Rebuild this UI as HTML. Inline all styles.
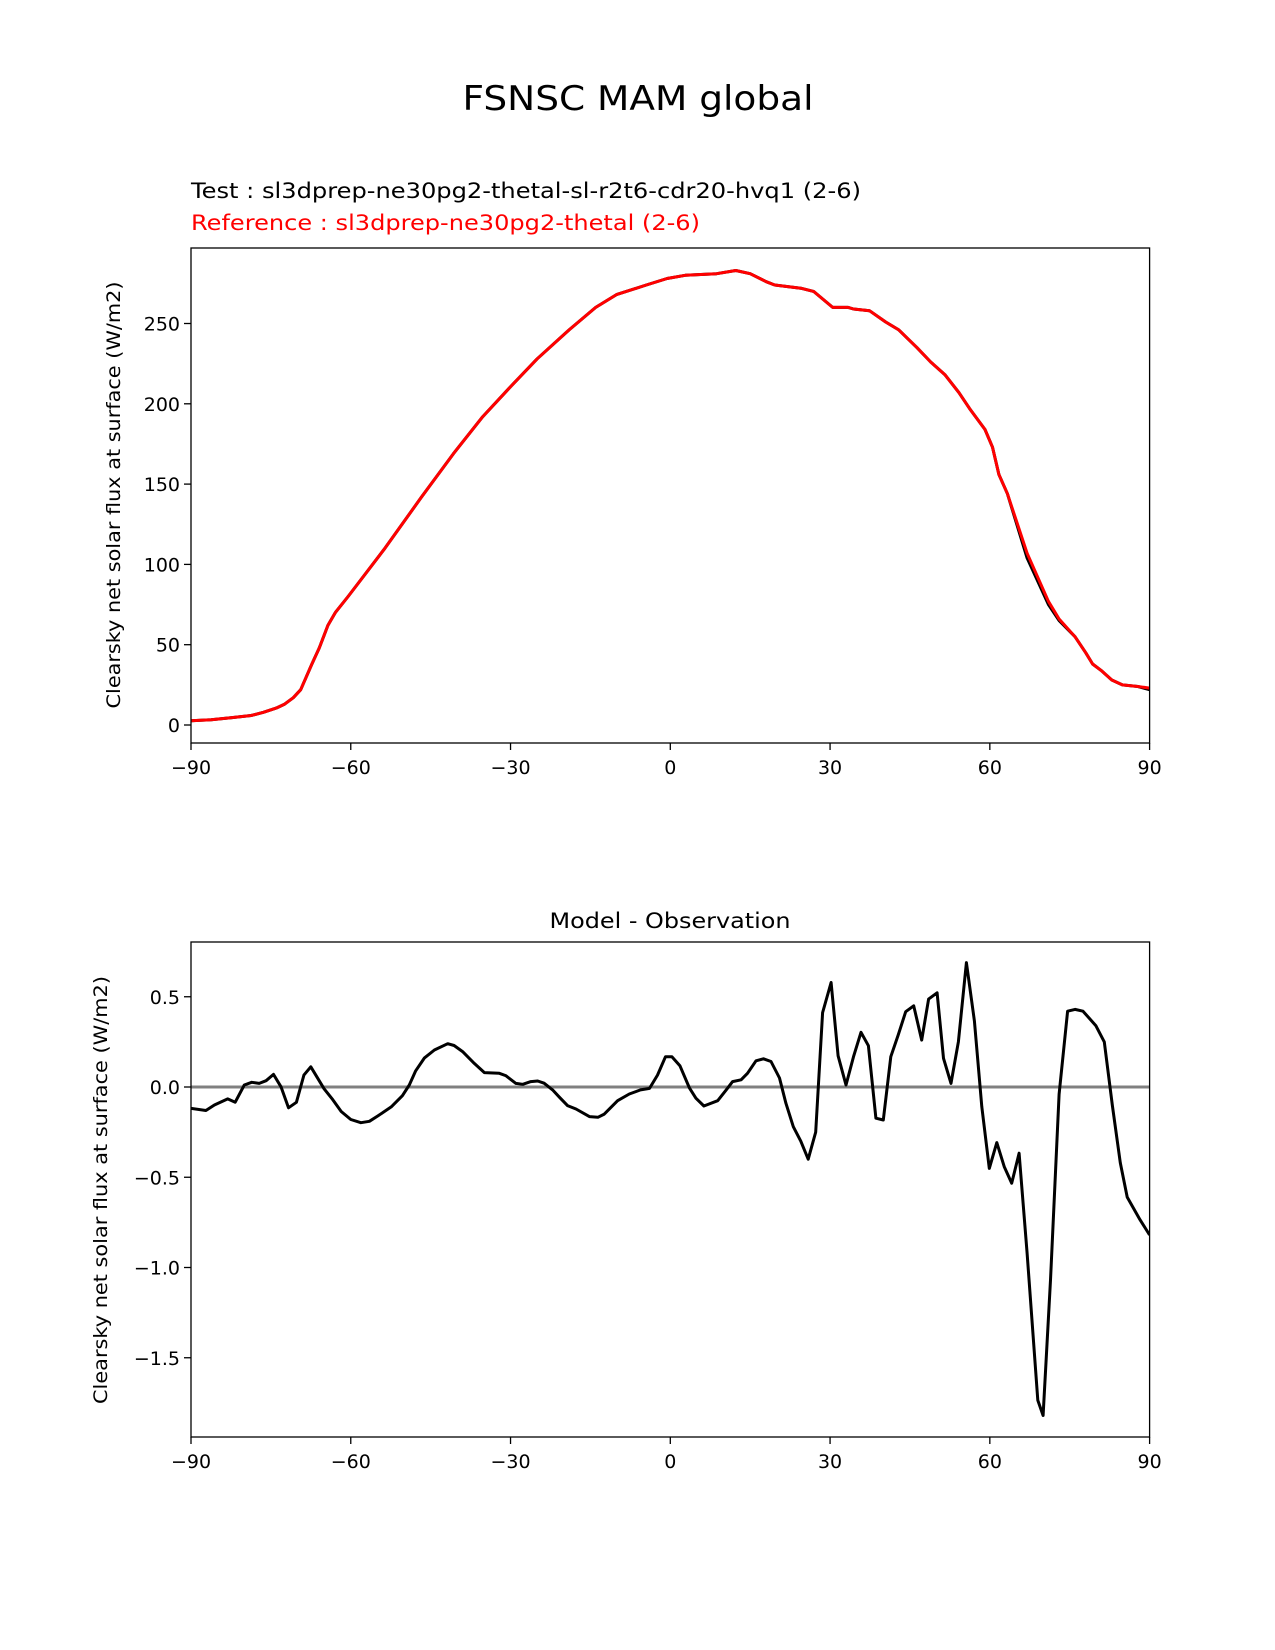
<!DOCTYPE html>
<html><head><meta charset="utf-8"><style>
html,body{margin:0;padding:0;background:#fff}
svg{display:block;font-family:"DejaVu Sans","Liberation Sans",sans-serif}
</style></head><body>
<svg id="fig" width="1275" height="1650" viewBox="0 0 1275 1650" xmlns="http://www.w3.org/2000/svg">
<rect width="1275" height="1650" fill="#fff"/>
<text x="638" y="110" font-size="34" text-anchor="middle" textLength="351" lengthAdjust="spacingAndGlyphs">FSNSC MAM global</text>
<text x="191" y="198" font-size="21" textLength="670" lengthAdjust="spacingAndGlyphs">Test : sl3dprep-ne30pg2-thetal-sl-r2t6-cdr20-hvq1 (2-6)</text>
<text x="191" y="230" font-size="21" fill="#ff0000" textLength="509" lengthAdjust="spacingAndGlyphs">Reference : sl3dprep-ne30pg2-thetal (2-6)</text>
<text x="670" y="928" font-size="21" text-anchor="middle" textLength="241" lengthAdjust="spacingAndGlyphs">Model - Observation</text>
<text transform="translate(120,495) rotate(-90)" font-size="19" text-anchor="middle" textLength="427" lengthAdjust="spacingAndGlyphs">Clearsky net solar flux at surface (W/m2)</text>
<text transform="translate(107,1190) rotate(-90)" font-size="19" text-anchor="middle" textLength="428" lengthAdjust="spacingAndGlyphs">Clearsky net solar flux at surface (W/m2)</text>
<g id="top"></g><g id="bot"></g>
</svg>
<script>
const xTicks=[-90,-60,-30,0,30,60,90];
const xTickLabels=["\u221290","\u221260","\u221230","0","30","60","90"];
const topYTicks=[0,50,100,150,200,250];
const botYTicks=[-1.5,-1.0,-0.5,0.0,0.5];
const botYTickLabels=["\u22121.5","\u22121.0","\u22120.5","0.0","0.5"];
const topLat=[-90,-86.2,-82.3,-78.7,-76.4,-74,-72.4,-70.8,-69.4,-67.3,-65.9,-64.3,-62.9,-60.5,-53.6,-46.7,-40.7,-35.2,-29.9,-25,-19,-14,-10.1,-4.5,-0.6,2.8,8.7,12.3,15,18,19.6,24.5,26.9,30.5,33.4,34.4,37.4,40.4,42.9,46.3,48.9,51.6,54.2,56.2,59.1,60.5,61.7,63.3,67,71,73,76,78,79.3,80.9,82.9,84.9,87.8,90];
const refVals=[2.6,3.3,4.6,5.9,7.9,10.5,13,17,22,38,48,62,70,80,110,142,169,192,211,228,246,260,268,274,278,280,281,283,281,276,274,272,270,260,260,259,258,251,246,235,226,218,207,197,184,173,156,144,107,77,66,55,45,38,34,28,25,24,23];
const testVals=[2.6,3.3,4.6,5.9,7.9,10.5,13,17,22,38,48,62,70,80,110,142,169,192,211,228,246,260,268,274,278,280,281,283,281,276,274,272,270,260,260,259,258,251,246,235,226,218,207,197,184,173,156,144,104,75,65,55,45,38,34,28,25,24,22];
const diffLat=[-90,-87.2,-85.6,-83.1,-81.7,-80,-78.6,-77.2,-75.9,-74.5,-73.1,-71.7,-70.2,-68.8,-67.5,-65,-63.4,-61.8,-60,-58.1,-56.5,-54.9,-52.4,-50.3,-49,-47.8,-46.2,-44.3,-41.8,-40.6,-39,-36.8,-34.9,-32.1,-30.9,-29,-27.7,-26.2,-24.9,-23.7,-22.1,-20.8,-19.3,-17.7,-15.2,-13.6,-12.4,-9.9,-7.7,-5.6,-3.9,-2.4,-0.9,0.3,1.8,3.6,4.8,6.3,8.9,10.5,11.7,13.3,14.5,16.1,17.5,18.9,20.5,21.7,23.1,24.5,25.9,27.3,28.6,30.2,31.5,33,34.4,35.8,37.2,38.6,40,41.4,42.8,44.2,45.7,47.2,48.5,50.1,51.3,52.7,54.1,55.6,57.1,58.5,59.9,61.3,62.7,64.1,65.5,67,69,70,71.4,73,74.6,76,77.5,79.9,81.5,83,84.5,85.8,88.2,90];
const diffVals=[-0.118,-0.13,-0.10,-0.066,-0.084,0.011,0.026,0.02,0.035,0.07,0.001,-0.115,-0.085,0.066,0.112,-0.01,-0.07,-0.136,-0.18,-0.198,-0.19,-0.16,-0.11,-0.048,0.011,0.09,0.16,0.205,0.24,0.23,0.196,0.131,0.08,0.076,0.063,0.02,0.015,0.03,0.033,0.021,-0.016,-0.057,-0.103,-0.122,-0.164,-0.168,-0.15,-0.076,-0.039,-0.016,-0.008,0.066,0.168,0.168,0.118,-0.006,-0.062,-0.105,-0.076,-0.016,0.03,0.04,0.076,0.145,0.156,0.141,0.05,-0.09,-0.22,-0.30,-0.40,-0.25,0.412,0.579,0.173,0.011,0.168,0.303,0.229,-0.173,-0.183,0.168,0.288,0.417,0.45,0.26,0.487,0.522,0.159,0.02,0.251,0.689,0.366,-0.109,-0.451,-0.308,-0.441,-0.533,-0.367,-0.92,-1.735,-1.82,-1.07,-0.04,0.42,0.43,0.42,0.34,0.25,-0.10,-0.42,-0.61,-0.735,-0.82];

const NS="http://www.w3.org/2000/svg";
const L=191,R=1149.6;
const xs=v=>L+(v+90)/180*(R-L);
function mk(p,t,a){const e=document.createElementNS(NS,t);for(const k in a)e.setAttribute(k,a[k]);p.appendChild(e);return e;}
function axes(g,top,bot,ys,yT,yL,prefix){
  const tickBase=bot+31;
  xTicks.forEach((t,i)=>{
    const tk=mk(g,'line',{x1:xs(t),x2:xs(t),y1:bot,y2:bot+7,stroke:'#000','stroke-width':1.3});
    
    
    const tx=mk(g,'text',{x:xs(t),y:tickBase,'font-size':19,'text-anchor':'middle'});
    tx.textContent=xTickLabels[i];
    
    
  });
  yT.forEach((t,i)=>{
    const y=ys(t);
    const tk=mk(g,'line',{x1:L-7,x2:L,y1:y,y2:y,stroke:'#000','stroke-width':1.3});
    
    
    const tx=mk(g,'text',{x:L-11,y:y+7,'font-size':19,'text-anchor':'end'});
    tx.textContent=yL[i];
    
    
  });
}
function series(g,lat,vals,ys,color,name,w){
  const d=lat.map((x,i)=>(i?'L':'M')+xs(x).toFixed(1)+' '+ys(vals[i]).toFixed(1)).join(' ');
  const p=mk(g,'path',{d:d,fill:'none',stroke:color,'stroke-width':w,'stroke-linejoin':'round'});
  
  
}
// top
const gt=document.getElementById('top');
const tT=248,tB=743;
const ysT=v=>725-v*1.606;
axes(gt,tT,tB,ysT,topYTicks,topYTicks.map(String),'top');
const cp1=mk(gt,'clipPath',{id:'c1'});mk(cp1,'rect',{x:L,y:tT,width:R-L,height:tB-tT});
const s1=mk(gt,'g',{'clip-path':'url(#c1)'});
series(s1,topLat,testVals,ysT,'#000','test-line',3);
series(s1,topLat,refVals,ysT,'#ff0000','reference-line',3);
const f1=mk(gt,'rect',{x:L,y:tT,width:R-L,height:tB-tT,fill:'none',stroke:'#000','stroke-width':1.3});


// bottom
const gb=document.getElementById('bot');
const bT=942,bB=1437;
const ysB=v=>1087-v*180.5;
axes(gb,bT,bB,ysB,botYTicks,botYTickLabels,'bottom');
const cp2=mk(gb,'clipPath',{id:'c2'});mk(cp2,'rect',{x:L,y:bT,width:R-L,height:bB-bT});
const s2=mk(gb,'g',{'clip-path':'url(#c2)'});
const z=mk(s2,'line',{x1:L,x2:R,y1:ysB(0),y2:ysB(0),stroke:'#808080','stroke-width':3});


series(s2,diffLat,diffVals,ysB,'#000','difference-line',3);
const f2=mk(gb,'rect',{x:L,y:bT,width:R-L,height:bB-bT,fill:'none',stroke:'#000','stroke-width':1.3});


</script>
</body></html>
